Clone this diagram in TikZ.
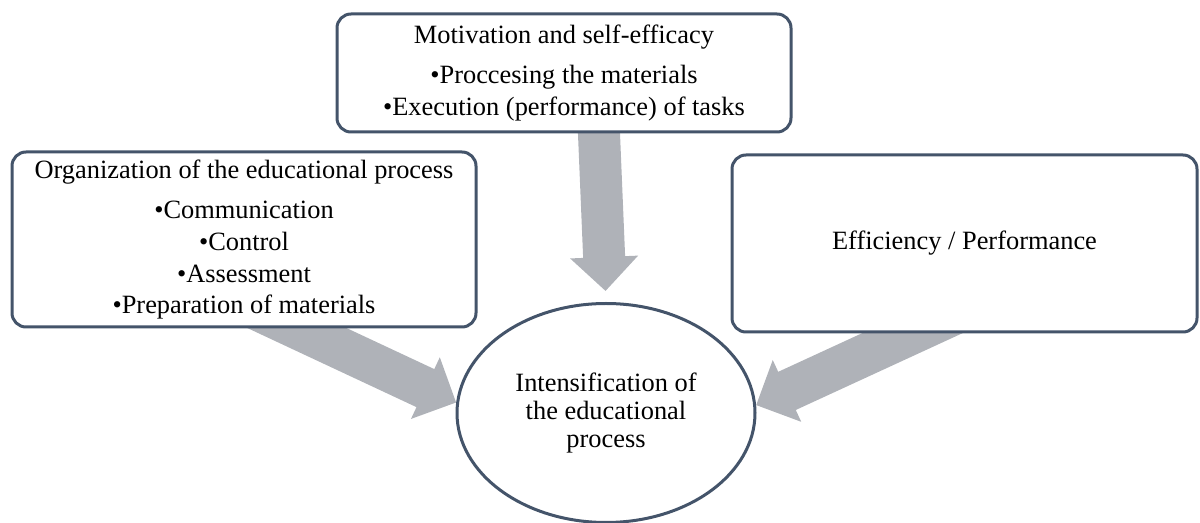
\documentclass[tikz,border=0pt]{standalone}
\usepackage{fontspec}
\setmainfont{Liberation Serif}
\usetikzlibrary{arrows.meta}
\usetikzlibrary{shapes.geometric}
\usetikzlibrary{backgrounds}
\definecolor{framecol}{HTML}{44546A}
\definecolor{arrowcol}{HTML}{AFB2B8}
\tikzset{box/.style = {draw=framecol, line width=1.5pt, rounded corners=7pt,
                       fill=white, align=center, inner sep=0pt,
                       font=\fontsize{13.2}{15.8}\selectfont},
         goal/.style = {ellipse, draw=framecol, line width=1.5pt, fill=white,
                        align=center, inner sep=0pt,
                        minimum width=149pt, minimum height=109.5pt,
                        font=\fontsize{13.2}{14}\selectfont},
         bigarrow/.style = {draw=arrowcol, line width=21pt,
                            -{Triangle[width=33pt, length=17pt]}}}

\begin{document}
\begin{tikzpicture}[x=0.5pt, y=-0.5pt]
    \useasboundingbox (0, 0) rectangle (1200, 523);
    \node [box, minimum width=227pt, minimum height=59pt] (motiv) at (564, 73)
        {Motivation and self-efficacy\\[4.5pt]•Proccesing the materials\\•Execution (performance) of tasks};
    \node [box, minimum width=232pt, minimum height=87.5pt] (organ) at (244, 239.5)
        {Organization of the educational process\\[4.5pt]•Communication\\•Control\\•Assessment\\•Preparation of materials};
    \node [box, minimum width=232.5pt, minimum height=88.5pt] (effic) at (964.5, 243.5)
        {Efficiency / Performance};
    \node [goal] (intens) at (606, 413) {Intensification of\\the educational\\process};
    % arrow tails sit under the boxes
    \coordinate (motivtail) at (598, 110);
    \coordinate (organtail) at (237, 300);
    \coordinate (effictail) at (980, 302);
    \begin{scope}[on background layer]
        \draw [bigarrow, shorten >=5.5pt] (motivtail) -- (intens.north);
        \draw [bigarrow] (organtail) -- (intens.176);
        \draw [bigarrow] (effictail) -- (intens.3);
    \end{scope}
\end{tikzpicture}
\end{document}
